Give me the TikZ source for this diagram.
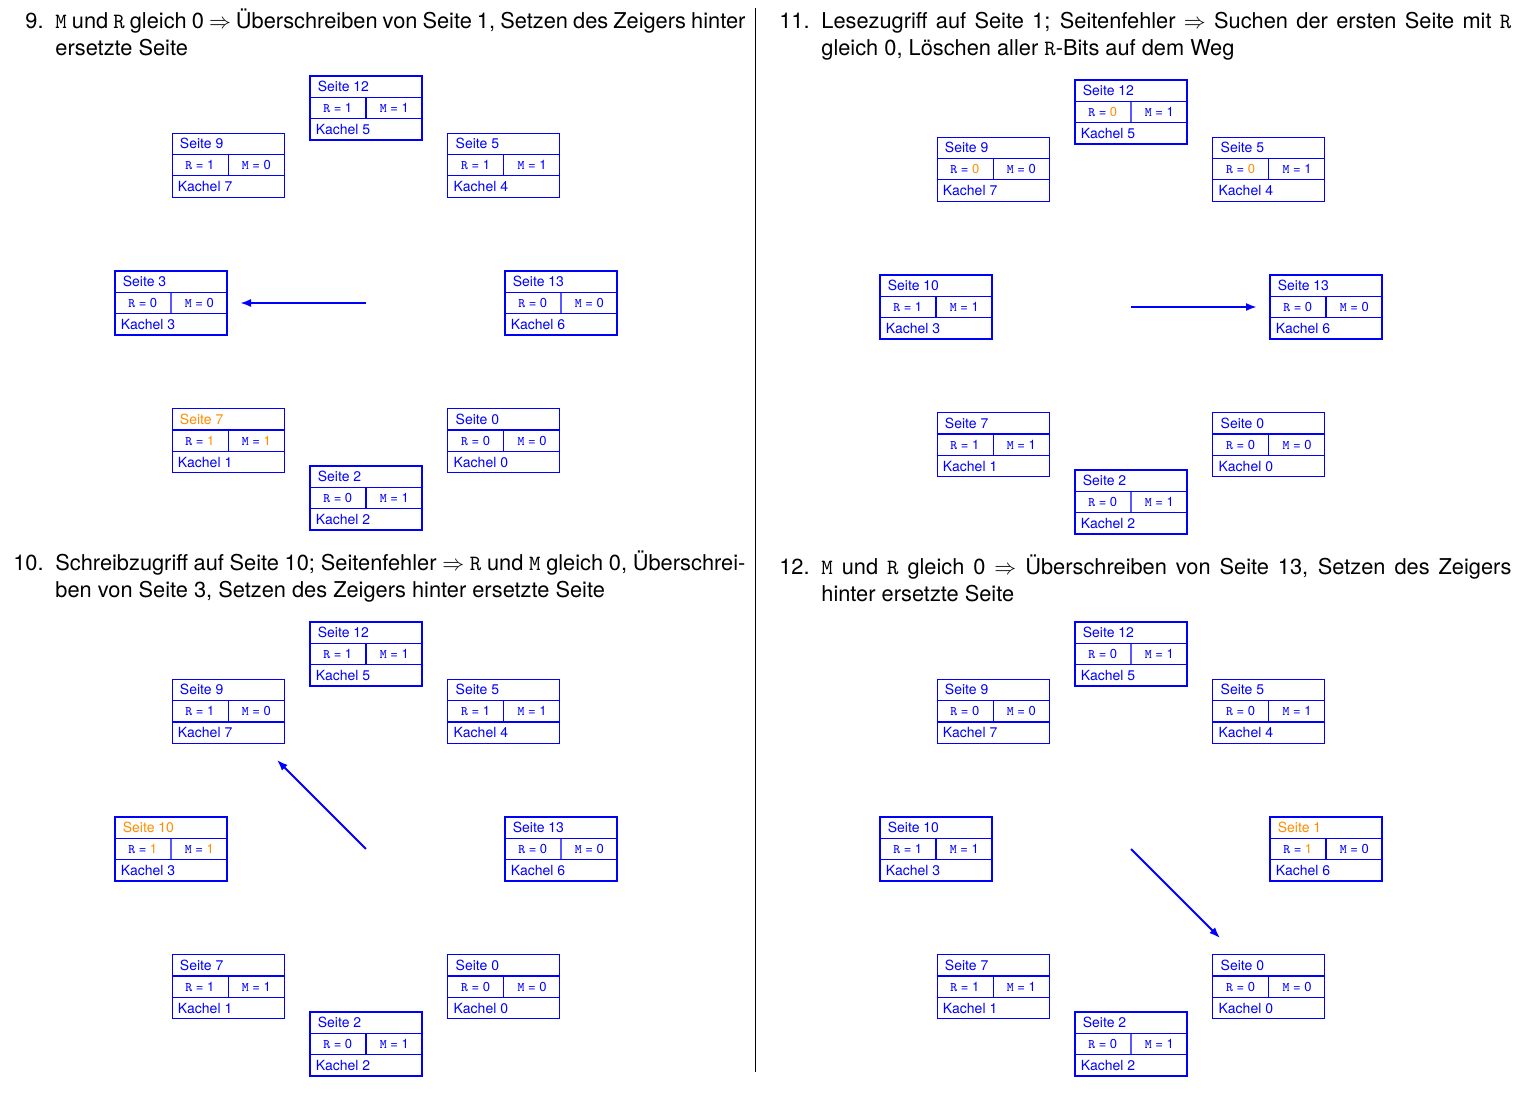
\documentclass[tikz,border=0pt]{standalone}
\usepackage{fontspec}
\setmainfont{TeX Gyre Heros}
\usetikzlibrary{arrows.meta,calc,positioning}

\definecolor{pgblue}{RGB}{0,0,255}
\definecolor{pgorange}{RGB}{255,140,0}
\newcommand{\hl}[1]{\textcolor{pgorange}{#1}}

\tikzset{
  pframe/.style={draw=pgblue, line width=0.55pt, minimum width=56pt, minimum height=32pt, inner sep=0pt},
  pline/.style={draw=pgblue, line width=0.55pt},
  ptext/.style={text=pgblue, font=\fontsize{7}{8}\selectfont, inner sep=0pt, text height=5pt, text depth=0pt},
  pbit/.style={text=pgblue, font=\fontsize{6.5}{7.5}\selectfont, inner sep=0pt, text height=4.6pt, text depth=0pt},
  hand/.style={pgblue, line width=1pt, -{Latex[length=5.5pt,width=4pt]}},
  hdr/.style={anchor=base west, text width=345pt, align=justify, inner sep=0pt, font=\fontsize{10.9}{13.5}\selectfont},
  numlbl/.style={anchor=base east, inner sep=0pt, font=\fontsize{10.9}{13.5}\selectfont},
}

% one page frame: name, position, page, R, M, frame
\newcommand{\pagebox}[6]{%
  \node[pframe] (#1) at (#2) {};
  \draw[pline] ($(#1.north west)!1/3!(#1.south west)$) -- ($(#1.north east)!1/3!(#1.south east)$);
  \draw[pline] ($(#1.north west)!2/3!(#1.south west)$) -- ($(#1.north east)!2/3!(#1.south east)$);
  \draw[pline] ($(#1.north)!1/3!(#1.south)$) -- ($(#1.north)!2/3!(#1.south)$);
  \node[ptext, anchor=west, xshift=4pt] (#1-s) at ($(#1.north west)!1/6!(#1.south west)$) {#3};
  \node[pbit] (#1-r) at ($(#1.west)!1/4!(#1.east)$) {\texttt{R} = #4};
  \node[pbit] (#1-m) at ($(#1.west)!3/4!(#1.east)$) {\texttt{M} = #5};
  \node[ptext, anchor=west, xshift=3pt] (#1-k) at ($(#1.north west)!5/6!(#1.south west)$) {Kachel #6};
}

% eight frames round the clock centre #1c
\newcommand{\clockface}[2]{%
  \foreach \ang/\nm/\pg/\r/\m/\k in {#2} {
    \pagebox{#1\nm}{$(#1c)+(\ang:195)$}{\pg}{\r}{\m}{\k}
  }
}

\begin{document}
\begin{tikzpicture}[x=0.5pt, y=0.5pt]
  \useasboundingbox (0,0) rectangle (1532,1102);

  % separator
  \draw[line width=0.5pt] (755,1094) -- (755,30);

  % step 9
  \node[numlbl] (n9) at (44,1073) {9.};
  \node[hdr] (t9) at (55,1073) {\texttt{M} und \texttt{R} gleich 0 $\Rightarrow$ Überschreiben von Seite 1, Setzen des Zeigers hinter\linebreak ersetzte Seite};
  \coordinate (p9c) at (366,799);
  \clockface{p9}{90/s12/{Seite 12}/1/1/5, 45/s5/{Seite 5}/1/1/4, 0/s13/{Seite 13}/0/0/6,
    -45/s0/{Seite 0}/0/0/0, -90/s2/{Seite 2}/0/1/2, -135/s7/{\hl{Seite 7}}/{\hl{1}}/{\hl{1}}/1,
    180/s3/{Seite 3}/0/0/3, 135/s9/{Seite 9}/1/0/7}
  \coordinate (p9h) at ($(p9c)+(180:126)$);
  \draw[hand] (p9c) -- (p9h);

  % step 10
  \node[numlbl] (n10) at (44,531) {10.};
  \node[hdr] (t10) at (55,531) {Schreibzugriff auf Seite 10; Seitenfehler $\Rightarrow$ \texttt{R} und \texttt{M} gleich 0, Überschrei-\linebreak ben von Seite 3, Setzen des Zeigers hinter ersetzte Seite};
  \coordinate (p10c) at (366,253);
  \clockface{p10}{90/s12/{Seite 12}/1/1/5, 45/s5/{Seite 5}/1/1/4, 0/s13/{Seite 13}/0/0/6,
    -45/s0/{Seite 0}/0/0/0, -90/s2/{Seite 2}/0/1/2, -135/s7/{Seite 7}/1/1/1,
    180/s10/{\hl{Seite 10}}/{\hl{1}}/{\hl{1}}/3, 135/s9/{Seite 9}/1/0/7}
  \coordinate (p10h) at ($(p10c)+(135:126)$);
  \draw[hand] (p10c) -- (p10h);

  % step 11
  \node[numlbl] (n11) at (810,1073) {11.};
  \node[hdr] (t11) at (821,1073) {Lesezugriff auf Seite 1; Seitenfehler $\Rightarrow$ Suchen der ersten Seite mit \texttt{R}\linebreak gleich 0, Löschen aller \texttt{R}-Bits auf dem Weg};
  \coordinate (p11c) at (1131,795);
  \clockface{p11}{90/s12/{Seite 12}/{\hl{0}}/1/5, 45/s5/{Seite 5}/{\hl{0}}/1/4, 0/s13/{Seite 13}/0/0/6,
    -45/s0/{Seite 0}/0/0/0, -90/s2/{Seite 2}/0/1/2, -135/s7/{Seite 7}/1/1/1,
    180/s10/{Seite 10}/1/1/3, 135/s9/{Seite 9}/{\hl{0}}/0/7}
  \coordinate (p11h) at ($(p11c)+(0:126)$);
  \draw[hand] (p11c) -- (p11h);

  % step 12
  \node[numlbl] (n12) at (810,527) {12.};
  \node[hdr] (t12) at (821,527) {\texttt{M} und \texttt{R} gleich 0 $\Rightarrow$ Überschreiben von Seite 13, Setzen des Zeigers\linebreak hinter ersetzte Seite};
  \coordinate (p12c) at (1131,253);
  \clockface{p12}{90/s12/{Seite 12}/0/1/5, 45/s5/{Seite 5}/0/1/4, 0/s1/{\hl{Seite 1}}/{\hl{1}}/0/6,
    -45/s0/{Seite 0}/0/0/0, -90/s2/{Seite 2}/0/1/2, -135/s7/{Seite 7}/1/1/1,
    180/s10/{Seite 10}/1/1/3, 135/s9/{Seite 9}/0/0/7}
  \coordinate (p12h) at ($(p12c)+(-45:126)$);
  \draw[hand] (p12c) -- (p12h);
\end{tikzpicture}
\end{document}
